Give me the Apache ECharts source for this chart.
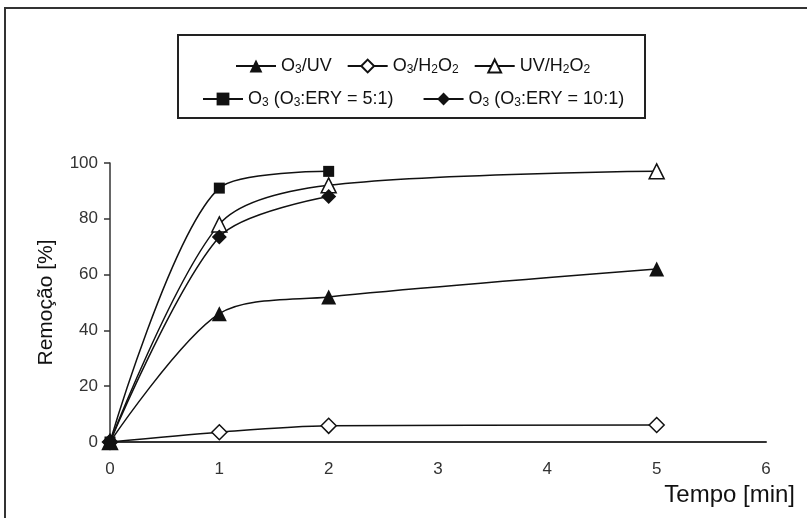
<!DOCTYPE html>
<html>
<head>
<meta charset="utf-8">
<script src="https://cdn.jsdelivr.net/npm/echarts@6/dist/echarts.min.js"></script>
<style>
  html, body { margin: 0; padding: 0; background: #fff; }
  #chart { width: 807px; height: 518px; }
</style>
</head>
<body>
<div id="chart"></div>
<script>
// tempo [min] e remoção [%]
const tempoUV = [0, 1, 2, 5]
const o3UV = [0, 46, 52, 62]
const tempoH2O2 = [0, 1, 2, 5]
const o3H2O2 = [0, 3.5, 5.8, 6.1]
const tempoUVH2O2 = [0, 1, 2, 5]
const uvH2O2 = [0, 78, 92, 97]
const tempoERY = [0, 1, 2]
const ery5 = [0, 91, 97]
const ery10 = [0, 73.5, 88]
const xTicks = [0, 1, 2, 3, 4, 5, 6]
const yTicks = [0, 20, 40, 60, 80, 100]

const names = ['O3/UV', 'O3/H2O2', 'UV/H2O2', 'O3 (O3:ERY = 5:1)', 'O3 (O3:ERY = 10:1)']
const labels = {
  'O3/UV': '{n|O}{s|3}{n|/UV}',
  'O3/H2O2': '{n|O}{s|3}{n|/H}{s|2}{n|O}{s|2}',
  'UV/H2O2': '{n|UV/H}{s|2}{n|O}{s|2}',
  'O3 (O3:ERY = 5:1)': '{n|O}{s|3}{n| (O}{s|3}{n|:ERY = 5:1)}',
  'O3 (O3:ERY = 10:1)': '{n|O}{s|3}{n| (O}{s|3}{n|:ERY = 10:1)}'
}

const pairs = (xs, ys) => xs.map((x, i) => [x, ys[i]])
const ink = '#111'

const legendBase = {
  itemWidth: 40,
  itemHeight: 16,
  textStyle: {
    color: ink,
    rich: {
      n: { fontSize: 18, lineHeight: 20, color: ink, fontFamily: 'Liberation Sans' },
      s: { fontSize: 12, lineHeight: 12, verticalAlign: 'bottom', color: ink, fontFamily: 'Liberation Sans' }
    }
  },
  formatter: name => labels[name]
}

function makeSeries(name, data, symbol, size, open, z) {
  return {
    name,
    type: 'line',
    data,
    smooth: 0.3,
    symbol,
    symbolSize: size,
    z,
    lineStyle: { color: ink, width: 1.5 },
    itemStyle: open
      ? { color: '#fff', borderColor: ink, borderWidth: 1.5 }
      : { color: ink, borderColor: ink, borderWidth: 0 }
  }
}

const chart = echarts.init(document.getElementById('chart'))
chart.setOption({
  animation: false,
  textStyle: { fontFamily: 'Liberation Sans' },
  grid: { left: 110, right: 41, top: 163, bottom: 76 },
  graphic: [
    { type: 'rect', shape: { x: 5, y: 8, width: 900, height: 600 }, style: { fill: 'none', stroke: '#333', lineWidth: 2 } },
    { type: 'rect', shape: { x: 178, y: 35, width: 467, height: 83 }, style: { fill: 'none', stroke: '#222', lineWidth: 2 } }
  ],
  legend: [
    Object.assign({}, legendBase, { data: names.slice(0, 3), left: 230, top: 52, itemGap: 15 }),
    Object.assign({}, legendBase, { data: names.slice(3), left: 197, top: 85, itemGap: 29 })
  ],
  xAxis: {
    type: 'value',
    min: xTicks[0],
    max: xTicks[xTicks.length - 1],
    interval: 1,
    name: 'Tempo [min]',
    nameLocation: 'end',
    nameGap: 29,
    nameTextStyle: { fontSize: 24, color: ink, align: 'right', verticalAlign: 'top', padding: [41, 0, 0, 0] },
    axisLine: { lineStyle: { color: '#333', width: 2 } },
    axisTick: { show: false },
    axisLabel: { fontSize: 17, color: '#333', margin: 19 },
    splitLine: { show: false }
  },
  yAxis: {
    type: 'value',
    min: yTicks[0],
    max: yTicks[yTicks.length - 1],
    interval: 20,
    name: 'Remoção [%]',
    nameLocation: 'middle',
    nameGap: 53,
    nameTextStyle: { fontSize: 21, color: ink },
    axisLine: { show: true, lineStyle: { color: '#333', width: 1.5 } },
    axisTick: { show: true, length: 6, lineStyle: { color: '#333', width: 1.5 } },
    axisLabel: { fontSize: 17, color: '#333', margin: 12 },
    splitLine: { show: false }
  },
  series: [
    makeSeries(names[1], pairs(tempoH2O2, o3H2O2), 'diamond', 15, true, 2),
    makeSeries(names[2], pairs(tempoUVH2O2, uvH2O2), 'triangle', 15, true, 3),
    makeSeries(names[3], pairs(tempoERY, ery5), 'rect', 11, false, 4),
    makeSeries(names[4], pairs(tempoERY, ery10), 'diamond', 15, false, 5),
    makeSeries(names[0], pairs(tempoUV, o3UV), 'triangle', 15, false, 6)
  ]
})
</script>
</body>
</html>
